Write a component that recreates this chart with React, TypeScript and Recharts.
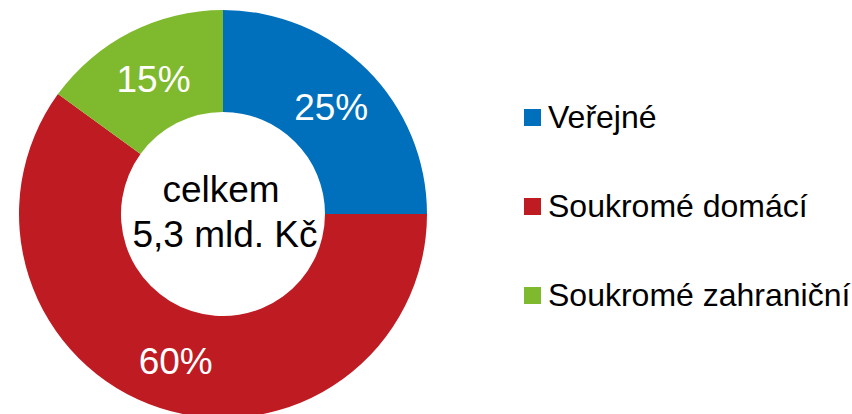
import React from "react";
import { PieChart, Pie, Cell } from "recharts";

const categories = ["Veřejné", "Soukromé domácí", "Soukromé zahraniční"];
const shares = [25, 60, 15];
const colors = ["#0070BC", "#BE1B23", "#7FBA2E"];
const centerLines = ["celkem", "5,3 mld. Kč"];

const data = categories.map((name, i) => ({ name, value: shares[i] }));

const FONT = "'Liberation Sans', Arial, sans-serif";
const RADIAN = Math.PI / 180;
const CX = 223;
const CY = 214;

const renderLabel = (props: any) => {
  const { cx, cy, midAngle, innerRadius, outerRadius, value } = props;
  const r = (innerRadius + outerRadius) / 2;
  const x = cx + r * Math.cos(-midAngle * RADIAN);
  const y = cy + r * Math.sin(-midAngle * RADIAN);
  return (
    <text
      x={x}
      y={y + 2}
      fill="#ffffff"
      textAnchor="middle"
      dominantBaseline="central"
      fontFamily={FONT}
      fontSize={37}
    >
      {`${value}%`}
    </text>
  );
};

export default function App() {
  return (
    <div style={{ position: "absolute", left: 0, top: 0, width: 852, height: 414, background: "#fff" }}>
      <PieChart width={852} height={414} margin={{ top: 0, right: 0, bottom: 0, left: 0 }}>
        <Pie
          data={data}
          dataKey="value"
          nameKey="name"
          cx={CX}
          cy={CY}
          innerRadius={102}
          outerRadius={204}
          startAngle={90}
          endAngle={-270}
          stroke="none"
          label={renderLabel}
          labelLine={false}
          isAnimationActive={false}
        >
          {data.map((d, i) => (
            <Cell key={d.name} fill={colors[i]} />
          ))}
        </Pie>
      </PieChart>
      <svg
        width={852}
        height={414}
        style={{ position: "absolute", left: 0, top: 0, pointerEvents: "none" }}
      >
        <text x={CX - 2} y={CY - 12} textAnchor="middle" fontFamily={FONT} fontSize={37} fill="#000">
          {centerLines[0]}
        </text>
        <text x={CX + 2} y={CY + 33} textAnchor="middle" fontFamily={FONT} fontSize={37} fill="#000">
          {centerLines[1]}
        </text>
      </svg>
      <div
        style={{ position: "absolute", left: 524, top: 100, width: 328, fontFamily: FONT, fontSize: 32, color: "#000" }}
      >
        {categories.map((name, i) => (
          <div
            key={name}
            style={{ display: "flex", alignItems: "center", height: 34, marginBottom: i < categories.length - 1 ? 55 : 0 }}
          >
            <span
              style={{ display: "inline-block", width: 17, height: 17, background: colors[i], marginRight: 7, flex: "none" }}
            />
            <span style={{ whiteSpace: "nowrap", lineHeight: "34px" }}>{name}</span>
          </div>
        ))}
      </div>
    </div>
  );
}
